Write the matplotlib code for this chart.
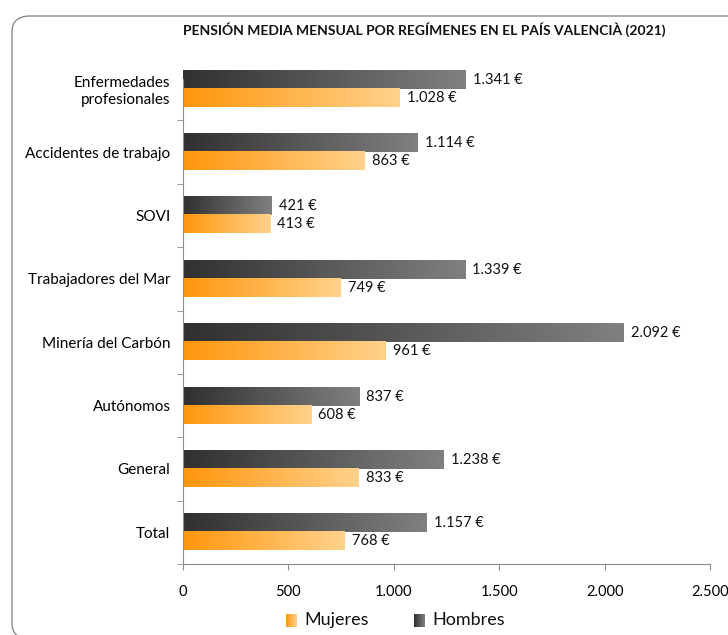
import matplotlib
matplotlib.use("Agg")
import matplotlib.pyplot as plt
import numpy as np
from matplotlib.colors import LinearSegmentedColormap
from matplotlib.patches import FancyBboxPatch
from matplotlib.ticker import FixedLocator, FuncFormatter

# Datos
categorias = ["Enfermedades\nprofesionales", "Accidentes de trabajo", "SOVI",
              "Trabajadores del Mar", "Minería del Carbón", "Autónomos",
              "General", "Total"]
hombres = [1341, 1114, 421, 1339, 2092, 837, 1238, 1157]
mujeres = [1028, 863, 413, 749, 961, 608, 833, 768]
xticks = [0, 500, 1000, 1500, 2000, 2500]
titulo = "PENSIÓN MEDIA MENSUAL POR REGÍMENES EN EL PAÍS VALENCIÀ (2021)"

plt.rcParams["font.family"] = ["Lato", "DejaVu Sans"]

cmap_h = LinearSegmentedColormap.from_list("h", ["#303030", "#808080"])
cmap_m = LinearSegmentedColormap.from_list("m", ["#ff960c", "#ffd28c"])
grad = np.linspace(0, 1, 256).reshape(1, -1)


def miles(v):
    return f"{v:,}".replace(",", ".")


fig = plt.figure(figsize=(7.28, 6.35), dpi=100)

# marco redondeado
marco = FancyBboxPatch((12 / 728, -4 / 635), 740 / 728, 623 / 635,
                       boxstyle="round,pad=0,rounding_size=0.025",
                       transform=fig.transFigure, fill=False,
                       edgecolor="#8c8c8c", linewidth=1.0, clip_on=False)
fig.patches.append(marco)

ax = fig.add_axes([183 / 728, 71 / 635, 527 / 728, 507 / 635])

h = 0.285
for i, (vh, vm) in enumerate(zip(hombres, mujeres)):
    ax.imshow(grad, cmap=cmap_h, aspect="auto", interpolation="bicubic",
              extent=[0, vh, i, i - h])
    ax.imshow(grad, cmap=cmap_m, aspect="auto", interpolation="bicubic",
              extent=[0, vm, i + h, i])
    ax.annotate(miles(vh) + " €", (vh, i - h / 2), xytext=(5, 0),
                textcoords="offset points", va="center", ha="left",
                fontsize=10.5, color="#111111")
    ax.annotate(miles(vm) + " €", (vm, i + h / 2), xytext=(5, 0),
                textcoords="offset points", va="center", ha="left",
                fontsize=10.5, color="#111111")

ax.set_xlim(0, 2500)
ax.set_ylim(7.5, -0.5)

ax.set_yticks(range(len(categorias)))
ax.set_yticklabels(categorias, fontsize=11, multialignment="right",
                   linespacing=1.3)
ax.yaxis.set_minor_locator(FixedLocator(np.arange(0.5, 7.6, 1)))
ax.tick_params(axis="y", which="major", length=0, pad=9)
ax.tick_params(axis="y", which="minor", length=4, color="#8c8c8c")

ax.set_xticks(xticks)
ax.xaxis.set_major_formatter(FuncFormatter(lambda v, p: miles(int(v))))
ax.tick_params(axis="x", length=4, color="#8c8c8c", labelsize=10.5, pad=11)

for s in ["top", "right"]:
    ax.spines[s].set_visible(False)
for s in ["left", "bottom"]:
    ax.spines[s].set_color("#8c8c8c")
ax.spines["left"].set_bounds(-0.15, 7.5)

fig.text(424 / 728, 1 - 30 / 635, titulo, ha="center", va="center",
         fontsize=10, fontweight="bold", color="#111111")

# leyenda manual con degradado
for x0, cm, txt in [(286, cmap_m, "Mujeres"), (414, cmap_h, "Hombres")]:
    lax = fig.add_axes([x0 / 728, (635 - 627) / 635, 11 / 728, 13 / 635])
    lax.imshow(grad, cmap=cm, aspect="auto")
    lax.axis("off")
    fig.text((x0 + 18) / 728, 1 - 620 / 635, txt, ha="left", va="center",
             fontsize=13, color="#111111")

fig.savefig("out.png", dpi=100)
